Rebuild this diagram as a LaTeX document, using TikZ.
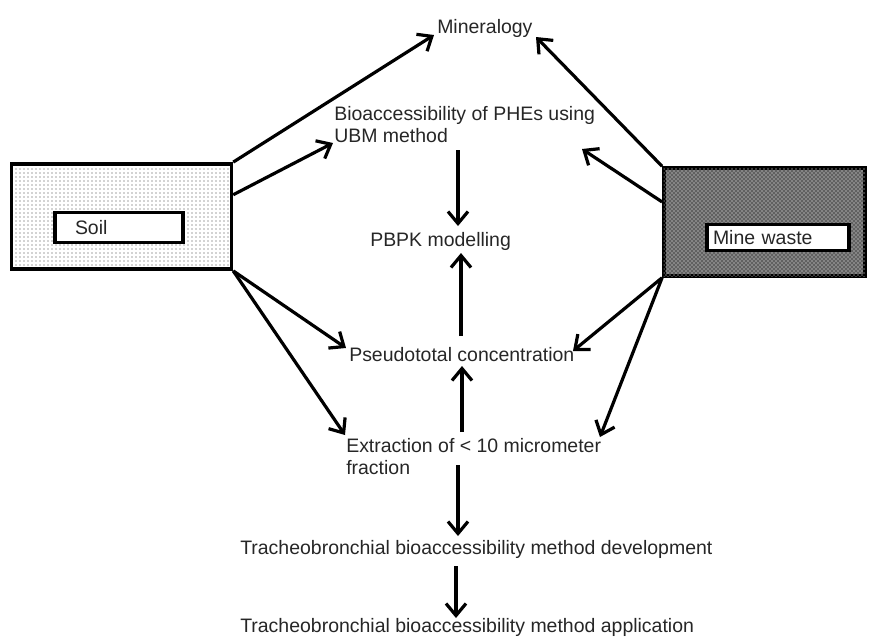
\documentclass[tikz,border=0pt]{standalone}
\usepackage{fontspec}
\setmainfont{Liberation Sans}
\usepackage{tikz}
\usetikzlibrary{arrows.meta, patterns, positioning, calc}

\begin{document}
\begin{tikzpicture}[x=0.75pt, y=-0.75pt,
    >={Straight Barb[length=9pt, width=15pt]},
    arr/.style={->, line width=2.4pt},
    lbl/.style={anchor=base west, inner sep=0pt, align=left, text=black!85,
        font=\fontsize{14.6}{16}\selectfont},
    srcbox/.style={draw, line width=2.6pt, inner sep=0pt},
    tagbox/.style={draw, fill=white, line width=2.4pt, inner ysep=0pt,
        align=left, text=black!85, font=\fontsize{14.6}{16}\selectfont}]

    \useasboundingbox (0,0) rectangle (869,637);

    % =================================================================
    % 1. SOURCE BOXES
    % =================================================================
    \node[srcbox, minimum width=165pt, minimum height=79pt,
        pattern=dots, pattern color=black!75] (soil) at (121.5,216.5) {};
    \node[tagbox, text width=66pt, inner xsep=15pt, minimum height=23pt] (soiltag) at (119,227.5) {Soil};

    \node[srcbox, minimum width=151pt, minimum height=81pt, fill=black!62,
        postaction={pattern=crosshatch dots, pattern color=white}] (waste) at (764.5,222) {};
    \node[tagbox, text width=97.5pt, inner xsep=4.5pt, minimum height=20pt] (wastetag) at (778,237.5) {Mine waste};

    % =================================================================
    % 2. TEXT NODES (base = last line)
    % =================================================================
    \node[lbl] (miner) at (437,33) {Mineralogy};
    \node[lbl] (bio) at (334,142) {Bioaccessibility of PHEs using\\UBM method};
    \node[lbl] (pbpk) at (370,246) {PBPK modelling};
    \node[lbl] (pseudo) at (349,361) {Pseudototal concentration};
    \node[lbl] (extr) at (346,474) {Extraction of < 10 micrometer\\fraction};
    \node[lbl] (tbdev) at (240,554) {Tracheobronchial bioaccessibility method development};
    \node[lbl] (tbapp) at (240,632) {Tracheobronchial bioaccessibility method application};

    % free ends of the connectors
    \coordinate (minerL) at (434,35);
    \coordinate (minerR) at (536,37);
    \coordinate (bioL) at (333,143);
    \coordinate (bioR) at (582,149);
    \coordinate (pseudoL) at (346,348);
    \coordinate (pseudoR) at (573,351);
    \coordinate (extrL) at (345,435);
    \coordinate (extrR) at (600,437);

    % =================================================================
    % 3. CONNECTORS
    % =================================================================
    \draw[arr] (soil.north east) -- (minerL);
    \draw[arr] ($(soil.north east)!0.3!(soil.south east)$) -- (bioL);
    \draw[arr] (soil.south east) -- (pseudoL);
    \draw[arr] (soil.south east) -- (extrL);

    \draw[arr] (waste.north west) -- (minerR);
    \draw[arr] ($(waste.north west)!0.32!(waste.south west)$) -- (bioR);
    \draw[arr] (waste.south west) -- (pseudoR);
    \draw[arr] (waste.south west) -- (extrR);

    \draw[arr] (458,150) -- (458,226);
    \draw[arr] (461,336) -- (461,253);
    \draw[arr] (462,432) -- (462,366);
    \draw[arr] (458,465) -- (458,536);
    \draw[arr] (456,566) -- (456,618);

\end{tikzpicture}
\end{document}
